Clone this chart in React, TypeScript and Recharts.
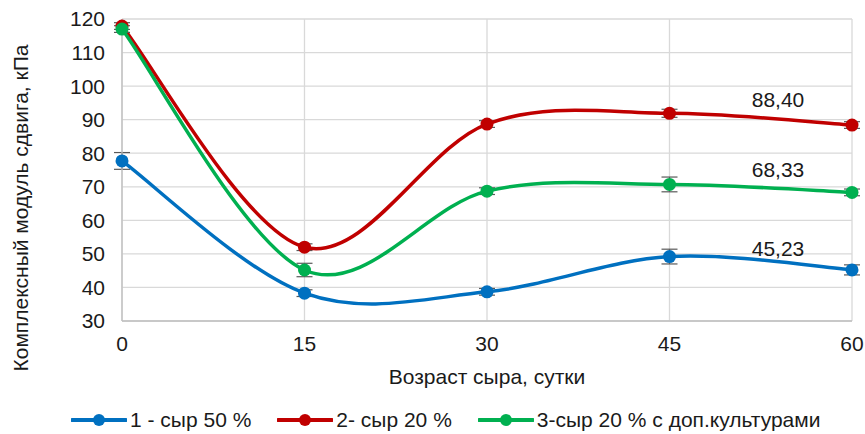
import React from 'react';
import {
  LineChart,
  Line,
  XAxis,
  YAxis,
  CartesianGrid,
  ErrorBar,
  LabelList,
  Legend,
} from 'recharts';

// Возраст сыра, сутки
const days = [0, 15, 30, 45, 60];

// Комплексный модуль сдвига, кПа
const cheese50 = [77.7, 38.3, 38.7, 49.2, 45.23];
const cheese20 = [117.9, 52.0, 88.7, 91.9, 88.4];
const cheese20cult = [117.0, 45.2, 68.7, 70.7, 68.33];

// погрешность измерений
const cheese50Err = [2.5, 1.0, 1.0, 2.2, 1.5];
const cheese20Err = [1.0, 1.0, 1.0, 1.2, 1.0];
const cheese20cultErr = [1.0, 2.0, 1.0, 2.2, 1.0];

const yTicks = [30, 40, 50, 60, 70, 80, 90, 100, 110, 120];

const seriesNames = ['1 - сыр 50 %', '2- сыр 20 %', '3-сыр 20 % с доп.культурами'];
const seriesColors = ['#0070C0', '#C00000', '#00B050'];

const last = days.length - 1;

const data = days.map((d, i) => ({
  day: d,
  s1: cheese50[i],
  s2: cheese20[i],
  s3: cheese20cult[i],
  e1: cheese50Err[i],
  e2: cheese20Err[i],
  e3: cheese20cultErr[i],
  // подпись только у последней точки
  l1: i === last ? cheese50[i] : null,
  l2: i === last ? cheese20[i] : null,
  l3: i === last ? cheese20cult[i] : null,
}));

const FONT = 'Arial, "Liberation Sans", sans-serif';
const TEXT = '#1a1a1a';

// сглаживание как в Excel (Catmull-Rom через кривые Безье)
function smoothCurve(context: any) {
  let pts: [number, number][] = [];
  return {
    areaStart() {},
    areaEnd() {},
    lineStart() {
      pts = [];
    },
    point(x: number, y: number) {
      pts.push([+x, +y]);
    },
    lineEnd() {
      if (!pts.length) return;
      context.moveTo(pts[0][0], pts[0][1]);
      for (let i = 0; i < pts.length - 1; i++) {
        const p0 = pts[i - 1] || pts[i];
        const p1 = pts[i];
        const p2 = pts[i + 1];
        const p3 = pts[i + 2] || p2;
        context.bezierCurveTo(
          p1[0] + (p2[0] - p0[0]) / 6,
          p1[1] + (p2[1] - p0[1]) / 6,
          p2[0] - (p3[0] - p1[0]) / 6,
          p2[1] - (p3[1] - p1[1]) / 6,
          p2[0],
          p2[1]
        );
      }
    },
  };
}

const endLabel = (dy: number) => (props: any) => {
  const { x, y, value } = props;
  if (value === null || value === undefined) return null;
  return (
    <text
      x={x - 74}
      y={y + dy}
      textAnchor="middle"
      fontSize={21}
      fontFamily={FONT}
      fill={TEXT}
    >
      {Number(value).toFixed(2).replace('.', ',')}
    </text>
  );
};

const LegendContent = () => (
  <div
    style={{
      display: 'flex',
      alignItems: 'center',
      height: 28,
      fontFamily: FONT,
      fontSize: 21,
      color: TEXT,
      whiteSpace: 'nowrap',
    }}
  >
    {seriesNames.map((name, i) => (
      <div
        key={name}
        style={{ display: 'flex', alignItems: 'center', marginRight: i < 2 ? 26 : 0 }}
      >
        <svg width={56} height={16} style={{ marginRight: 3 }}>
          <line x1={1} y1={8} x2={55} y2={8} stroke={seriesColors[i]} strokeWidth={4} strokeLinecap="round" />
          <circle cx={28} cy={8} r={6} fill={seriesColors[i]} />
        </svg>
        <span>{name}</span>
      </div>
    ))}
  </div>
);

export default function App() {
  const series = [
    { key: 's1', err: 'e1', label: 'l1', dy: -14 },
    { key: 's2', err: 'e2', label: 'l2', dy: -18 },
    { key: 's3', err: 'e3', label: 'l3', dy: -15.5 },
  ];

  return (
    <div style={{ position: 'absolute', left: 0, top: 0, background: '#fff' }}>
      <LineChart
        width={865}
        height={434}
        data={data}
        margin={{ top: 19, right: 13, left: 0, bottom: 0 }}
      >
        <CartesianGrid stroke="#d9d9d9" strokeWidth={1.3} />
        <XAxis
          dataKey="day"
          type="number"
          domain={[0, 60]}
          ticks={days}
          height={85}
          tickSize={0}
          tickMargin={15}
          axisLine={{ stroke: '#bfbfbf', strokeWidth: 1.3 }}
          tick={{ fontSize: 21, fontFamily: FONT, fill: TEXT }}
          label={(props: any) => {
            const vb = props.viewBox;
            return (
              <text
                x={vb.x + vb.width / 2}
                y={vb.y + 63}
                textAnchor="middle"
                fontSize={21}
                fontFamily={FONT}
                fill={TEXT}
              >
                Возраст сыра, сутки
              </text>
            );
          }}
        />
        <YAxis
          type="number"
          domain={[30, 120]}
          ticks={yTicks}
          width={122}
          tickSize={0}
          tickMargin={17}
          axisLine={{ stroke: '#bfbfbf', strokeWidth: 1.3 }}
          tick={{ fontSize: 21, fontFamily: FONT, fill: TEXT }}
          label={(props: any) => {
            const vb = props.viewBox;
            const cy = vb.y + vb.height / 2 + 38;
            return (
              <text
                x={28}
                y={cy}
                transform={`rotate(-90, 28, ${cy})`}
                textAnchor="middle"
                fontSize={21}
                fontFamily={FONT}
                fill={TEXT}
              >
                Комплексный модуль сдвига, кПа
              </text>
            );
          }}
        />
        <Legend
          verticalAlign="bottom"
          content={<LegendContent />}
          wrapperStyle={{ left: 71, width: 780 }}
        />
        {series.map((s, i) => (
          <Line
            key={s.key}
            dataKey={s.key}
            name={seriesNames[i]}
            type={smoothCurve as any}
            stroke={seriesColors[i]}
            strokeWidth={3.5}
            dot={{ r: 6.5, fill: seriesColors[i], stroke: seriesColors[i], strokeWidth: 0 }}
            activeDot={false}
            isAnimationActive={false}
          >
            <ErrorBar dataKey={s.err} direction="y" width={8} stroke="#595959" strokeWidth={1.2} />
            <LabelList dataKey={s.label} content={endLabel(s.dy)} />
          </Line>
        ))}
      </LineChart>
    </div>
  );
}
